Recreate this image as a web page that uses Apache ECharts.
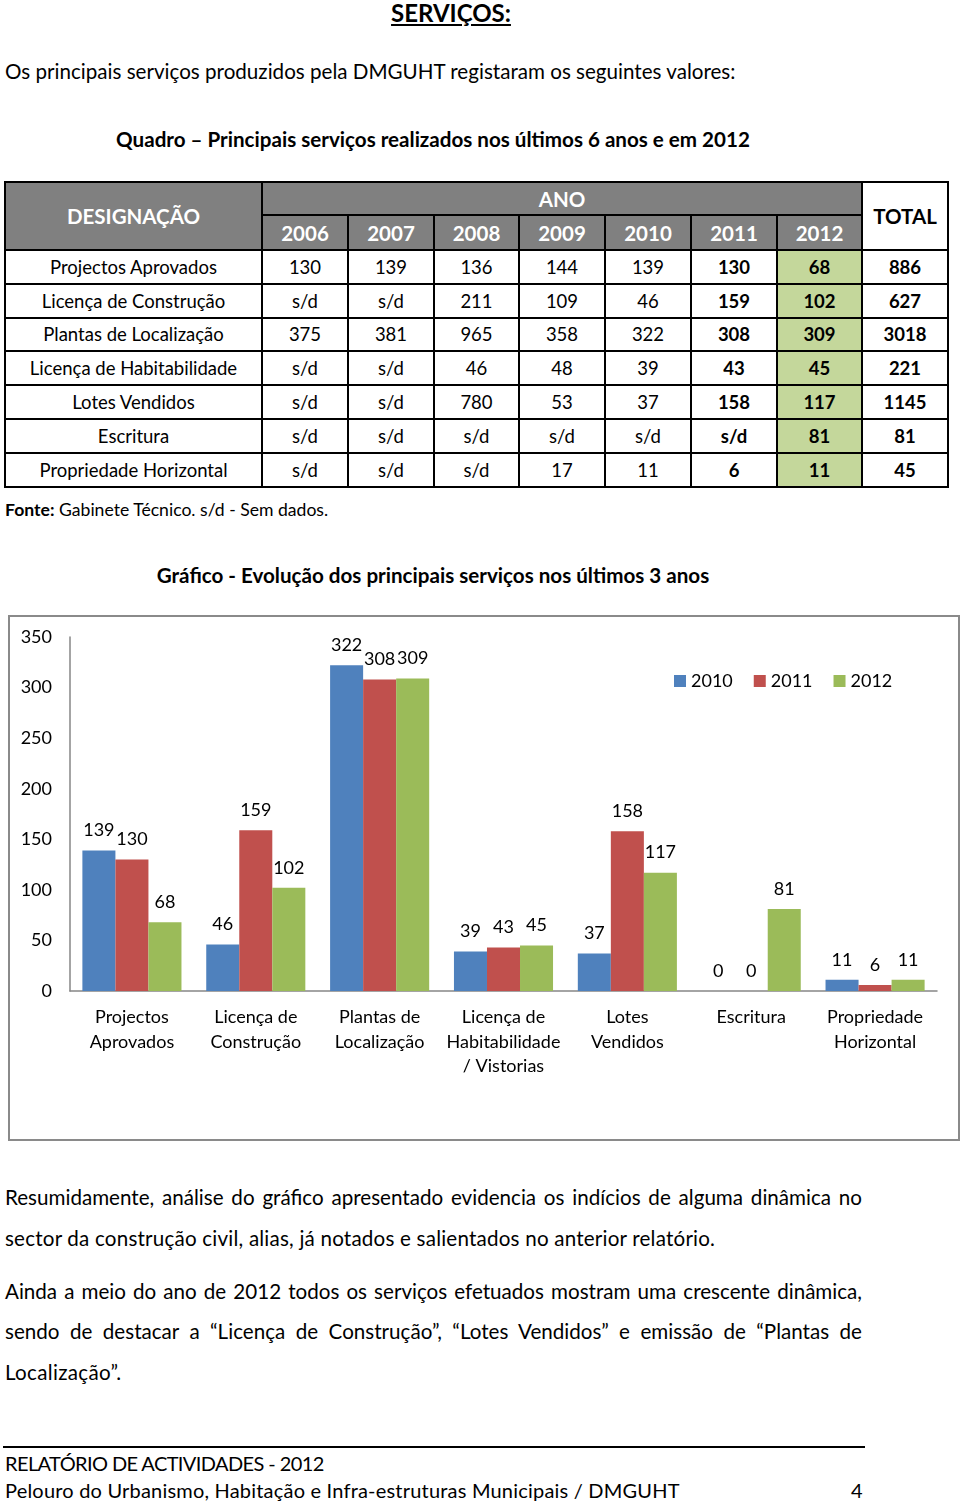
<!DOCTYPE html>
<html><head><meta charset="utf-8">
<script src="https://cdn.jsdelivr.net/npm/echarts@6/dist/echarts.min.js"></script>
<style>
html,body{margin:0;padding:0;background:#fff;}
body{width:960px;height:1506px;position:relative;overflow:hidden;font-family:Lato,"Open Sans",sans-serif;color:#000;}
.abs{position:absolute;white-space:nowrap;}
table{border-collapse:collapse;position:absolute;left:4px;top:181px;table-layout:fixed;}
td{border:2px solid #000;text-align:center;padding:0;font-size:18.5px;height:31.8px;}
td.h{background:#808080;color:#fff;font-weight:bold;font-size:20.5px;}
td.g{background:#c4d79b;}
td.b{font-weight:bold;}
.line{position:absolute;left:5px;width:857px;font-size:20.6px;white-space:nowrap;}
.just{text-align:justify;text-align-last:justify;}
</style></head>
<body>
<div class="abs" style="left:0;width:902px;text-align:center;top:-2px;font-size:24px;font-weight:bold;text-decoration:underline;">SERVIÇOS:</div>
<div class="abs" style="left:5px;top:59px;font-size:20.6px;">Os principais serviços produzidos pela DMGUHT registaram os seguintes valores:</div>
<div class="abs" style="left:0;width:866px;text-align:center;top:127px;font-size:20.6px;font-weight:bold;">Quadro – Principais serviços realizados nos últimos 6 anos e em 2012</div>
<div id="tbl"></div>
<div class="abs" style="left:5px;top:499px;font-size:17.6px;"><b>Fonte:</b> Gabinete Técnico. s/d - Sem dados.</div>
<div class="abs" style="left:0;width:866px;text-align:center;top:563px;font-size:20.6px;font-weight:bold;">Gráfico - Evolução dos principais serviços nos últimos 3 anos</div>
<div style="position:absolute;left:8px;top:615px;width:948px;height:522px;border:2px solid #8a8a8a;"></div>
<div id="chart" style="position:absolute;left:0;top:600px;width:960px;height:560px;"></div>
<div class="line just" style="top:1185px;">Resumidamente, análise do gráfico apresentado evidencia os indícios de alguma dinâmica no</div>
<div class="line" style="top:1226px;letter-spacing:0.2px;">sector da construção civil, alias, já notados e salientados no anterior relatório.</div>
<div class="line just" style="top:1279px;">Ainda a meio do ano de 2012 todos os serviços efetuados mostram uma crescente dinâmica,</div>
<div class="line just" style="top:1319px;">sendo de destacar a “Licença de Construção”, “Lotes Vendidos” e emissão de “Plantas de</div>
<div class="line" style="top:1360px;letter-spacing:0.3px;">Localização”.</div>
<div style="position:absolute;left:3px;top:1446px;width:862px;height:2px;background:#000;"></div>
<div class="abs" style="left:5px;top:1451px;font-size:20px;letter-spacing:-0.6px;">RELATÓRIO DE ACTIVIDADES - 2012</div>
<div class="abs" style="left:5px;top:1478px;font-size:20px;letter-spacing:0.2px;">Pelouro do Urbanismo, Habitação e Infra-estruturas Municipais / DMGUHT</div>
<div class="abs" style="left:851px;top:1478px;font-size:20px;">4</div>
<script>
// ---- Table data ----
var tableYears = ['2006','2007','2008','2009','2010','2011','2012'];
var tableRows = ['Projectos Aprovados','Licença de Construção','Plantas de Localização','Licença de Habitabilidade','Lotes Vendidos','Escritura','Propriedade Horizontal'];
var v2006 = ['130','s/d','375','s/d','s/d','s/d','s/d'];
var v2007 = ['139','s/d','381','s/d','s/d','s/d','s/d'];
var v2008 = ['136','211','965','46','780','s/d','s/d'];
var v2009 = ['144','109','358','48','53','s/d','17'];
var v2010 = ['139','46','322','39','37','s/d','11'];
var v2011 = ['130','159','308','43','158','s/d','6'];
var v2012 = ['68','102','309','45','117','81','11'];
var vTotal = ['886','627','3018','221','1145','81','45'];

// ---- Chart data ----
var categories = ['Projectos\nAprovados','Licença de\nConstrução','Plantas de\nLocalização','Licença de\nHabitabilidade\n/ Vistorias','Lotes\nVendidos','Escritura','Propriedade\nHorizontal'];
var seriesNames = ['2010','2011','2012'];
var s2010 = [139, 46, 322, 39, 37, 0, 11];
var s2011 = [130, 159, 308, 43, 158, 0, 6];
var s2012 = [68, 102, 309, 45, 117, 81, 11];
var yTicks = [0, 50, 100, 150, 200, 250, 300, 350];

// build table
(function(){
  var widths=[257,86,86,85,86,86,86,85,86];
  var h='<table><colgroup>'+widths.map(function(w){return '<col style="width:'+w+'px">';}).join('')+'</colgroup>';
  h+='<tr><td class="h" rowspan="2" style="height:66px">DESIGNAÇÃO</td><td class="h" colspan="7" style="height:31px">ANO</td><td rowspan="2" class="b" style="font-size:20.5px">TOTAL</td></tr>';
  h+='<tr>'+tableYears.map(function(y){return '<td class="h" style="height:33px">'+y+'</td>';}).join('')+'</tr>';
  var cols=[v2006,v2007,v2008,v2009,v2010,v2011,v2012];
  for(var i=0;i<tableRows.length;i++){
    h+='<tr><td>'+tableRows[i]+'</td>';
    for(var j=0;j<cols.length;j++){
      var cls = j===5?'b':(j===6?'b g':'');
      h+='<td class="'+cls+'">'+cols[j][i]+'</td>';
    }
    h+='<td class="b">'+vTotal[i]+'</td></tr>';
  }
  h+='</table>';
  document.getElementById('tbl').innerHTML=h;
})();

var chart = echarts.init(document.getElementById('chart'), null, {renderer:'canvas'});
var colors=['#4f81bd','#c0504d','#9bbb59'];
var font='Lato, "Open Sans", sans-serif';
function mk(name,data,i){
  return {name:name,type:'bar',data:data,barGap:'0%',barCategoryGap:'20%',
    itemStyle:{color:colors[i]},
    label:{show:true,position:'top',distance:11,fontSize:18,color:'#000',fontFamily:font},
    emphasis:{disabled:true}};
}
chart.setOption({
  animation:false,
  textStyle:{fontFamily:font},
  grid:{left:70,top:37,width:867,height:354,containLabel:false},
  legend:{data:seriesNames,left:669,top:67,itemWidth:12,itemHeight:12,itemGap:21,icon:'rect',
    textStyle:{fontSize:18,color:'#000',fontFamily:font}},
  xAxis:{type:'category',data:categories,
    axisLine:{lineStyle:{color:'#868686',width:1.5}},axisTick:{show:false},
    axisLabel:{fontSize:18,color:'#000',lineHeight:24.5,margin:14,interval:0,fontFamily:font}},
  yAxis:{type:'value',min:yTicks[0],max:yTicks[yTicks.length-1],interval:50,
    axisLine:{show:true,lineStyle:{color:'#868686',width:1.5}},axisTick:{show:false},splitLine:{show:false},
    axisLabel:{fontSize:18,color:'#000',margin:18,fontFamily:font}},
  series:[mk(seriesNames[0],s2010,0),mk(seriesNames[1],s2011,1),mk(seriesNames[2],s2012,2)]
});
</script>
</body></html>
